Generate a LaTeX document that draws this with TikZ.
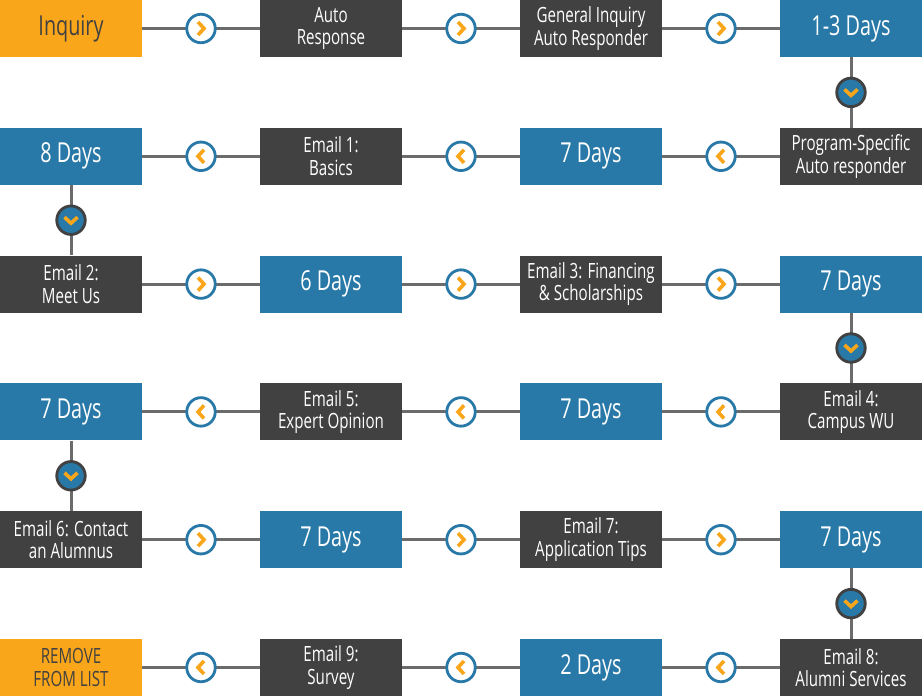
\documentclass[tikz,border=0pt]{standalone}
\usepackage{fontspec}
\setmainfont{Open Sans}[FakeStretch=0.72]
\usetikzlibrary{calc}
\definecolor{corange}{HTML}{F9A61A}
\definecolor{cdark}{HTML}{414141}
\definecolor{cblue}{HTML}{2878A8}
\definecolor{cline}{HTML}{6B6B6B}
\newcommand{\one}{\fontsize{27.5}{30}\selectfont}
\newcommand{\two}{\fontsize{21}{22.5}\selectfont}
\tikzset{
  box/.style={minimum width=142pt, minimum height=57pt, inner sep=0pt, align=center, text=white, font=\two},
  obox/.style={box, fill=corange, text=cdark},
  dbox/.style={box, fill=cdark},
  bbox/.style={box, fill=cblue, font=\one},
  single/.style={font=\one},
  conn/.style={draw=cline, line width=3pt},
  hcirc/.style={circle, draw=cblue, line width=2.8pt, fill=white, minimum size=28.5pt, inner sep=0pt},
  vcirc/.style={circle, draw=cdark, line width=2.8pt, fill=cblue, minimum size=28.5pt, inner sep=0pt},
  chev/.style={draw=corange, line width=3.6pt},
}
\newcommand{\rc}[2]{% right chevron in circle at #1 named #2
  \node[hcirc] (#2) at (#1) {};
  \draw[chev] ([xshift=-3pt,yshift=6.5pt]#2.center) -- ([xshift=3pt]#2.center) -- ([xshift=-3pt,yshift=-6.5pt]#2.center);}
\newcommand{\lc}[2]{%
  \node[hcirc] (#2) at (#1) {};
  \draw[chev] ([xshift=3pt,yshift=6.5pt]#2.center) -- ([xshift=-3pt]#2.center) -- ([xshift=3pt,yshift=-6.5pt]#2.center);}
\newcommand{\dc}[2]{%
  \node[vcirc] (#2) at (#1) {};
  \draw[chev] ([xshift=-6.5pt,yshift=3pt]#2.center) -- ([yshift=-3pt]#2.center) -- ([xshift=6.5pt,yshift=3pt]#2.center);}
\begin{document}
\begin{tikzpicture}[x=1pt,y=-1pt]
\useasboundingbox (0,0) rectangle (922,696);
% row 1
\node[obox,single] (a1) at (71,28.5) {Inquiry};
\node[dbox] (a2) at (331,28.5) {Auto\\Response};
\node[dbox] (a3) at (591,28.5) {General Inquiry\\Auto Responder};
\node[bbox] (a4) at (851,28.5) {1-3 Days};
% row 2
\node[bbox] (b1) at (71,156.3) {8 Days};
\node[dbox] (b2) at (331,156.3) {Email 1:\\Basics};
\node[bbox] (b3) at (591,156.3) {7 Days};
\node[dbox] (b4) at (851,156.3) {Program-Specific\\Auto responder};
% row 3
\node[dbox] (c1) at (71,284.1) {Email 2:\\Meet Us};
\node[bbox] (c2) at (331,284.1) {6 Days};
\node[dbox] (c3) at (591,284.1) {Email 3: Financing\\\& Scholarships};
\node[bbox] (c4) at (851,284.1) {7 Days};
% row 4
\node[bbox] (d1) at (71,411.9) {7 Days};
\node[dbox] (d2) at (331,411.9) {Email 5:\\Expert Opinion};
\node[bbox] (d3) at (591,411.9) {7 Days};
\node[dbox] (d4) at (851,411.9) {Email 4:\\Campus WU};
% row 5
\node[dbox] (e1) at (71,539.7) {Email 6: Contact\\an Alumnus};
\node[bbox] (e2) at (331,539.7) {7 Days};
\node[dbox] (e3) at (591,539.7) {Email 7:\\Application Tips};
\node[bbox] (e4) at (851,539.7) {7 Days};
% row 6
\node[obox] (f1) at (71,667.5) {REMOVE\\FROM LIST};
\node[dbox] (f2) at (331,667.5) {Email 9:\\Survey};
\node[bbox] (f3) at (591,667.5) {2 Days};
\node[dbox] (f4) at (851,667.5) {Email 8:\\Alumni Services};
% connectors
\foreach \p/\q in {a1/a2,a2/a3,a3/a4,a4/b4,b4/b3,b3/b2,b2/b1,b1/c1,c1/c2,c2/c3,c3/c4,c4/d4,d4/d3,d3/d2,d2/d1,d1/e1,e1/e2,e2/e3,e3/e4,e4/f4,f4/f3,f3/f2,f2/f1}
  \draw[conn] (\p) -- (\q);
% circles
\rc{$(a1.east)!0.5!(a2.west)$}{ka1}
\rc{$(a2.east)!0.5!(a3.west)$}{ka2}
\rc{$(a3.east)!0.5!(a4.west)$}{ka3}
\dc{$(a4.south)!0.5!(b4.north)$}{kab}
\lc{$(b4.west)!0.5!(b3.east)$}{kb3}
\lc{$(b3.west)!0.5!(b2.east)$}{kb2}
\lc{$(b2.west)!0.5!(b1.east)$}{kb1}
\dc{$(b1.south)!0.5!(c1.north)$}{kbc}
\rc{$(c1.east)!0.5!(c2.west)$}{kc1}
\rc{$(c2.east)!0.5!(c3.west)$}{kc2}
\rc{$(c3.east)!0.5!(c4.west)$}{kc3}
\dc{$(c4.south)!0.5!(d4.north)$}{kcd}
\lc{$(d4.west)!0.5!(d3.east)$}{kd3}
\lc{$(d3.west)!0.5!(d2.east)$}{kd2}
\lc{$(d2.west)!0.5!(d1.east)$}{kd1}
\dc{$(d1.south)!0.5!(e1.north)$}{kde}
\rc{$(e1.east)!0.5!(e2.west)$}{ke1}
\rc{$(e2.east)!0.5!(e3.west)$}{ke2}
\rc{$(e3.east)!0.5!(e4.west)$}{ke3}
\dc{$(e4.south)!0.5!(f4.north)$}{kef}
\lc{$(f4.west)!0.5!(f3.east)$}{kf3}
\lc{$(f3.west)!0.5!(f2.east)$}{kf2}
\lc{$(f2.west)!0.5!(f1.east)$}{kf1}
\end{tikzpicture}
\end{document}
